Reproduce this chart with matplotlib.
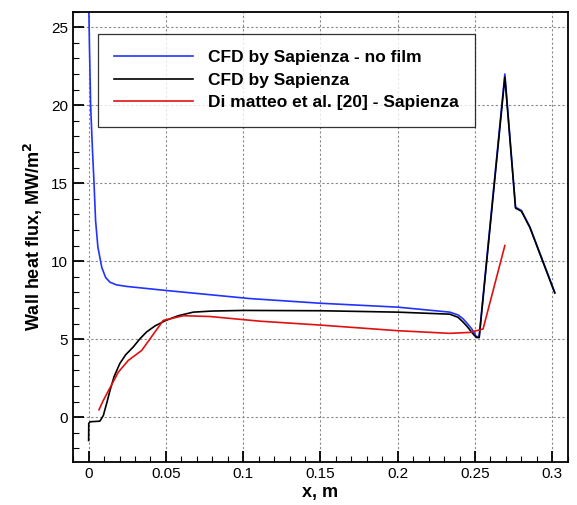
import matplotlib
matplotlib.use('Agg')
import matplotlib.pyplot as plt
from matplotlib.ticker import MultipleLocator

plt.rcParams['font.family'] = ['Liberation Sans', 'DejaVu Sans']

# CFD by Sapienza - no film
x_nofilm = [0.0, 0.0005, 0.0013, 0.0025, 0.0035, 0.0045, 0.006, 0.0085, 0.011, 0.0138,
            0.018, 0.0245, 0.05, 0.1044, 0.15, 0.2, 0.2337, 0.239, 0.2423, 0.245,
            0.2477, 0.2495, 0.251, 0.2527, 0.2693, 0.2762, 0.280, 0.2855, 0.3016]
y_nofilm = [27.0, 24.0, 20.0, 17.1, 15.0, 12.6, 10.9, 9.6, 8.95, 8.65,
            8.48, 8.38, 8.12, 7.6, 7.3, 7.05, 6.73, 6.55, 6.3, 6.0,
            5.68, 5.4, 5.13, 5.2, 22.0, 13.46, 13.25, 12.2, 8.0]

# CFD by Sapienza
x_film = [0.0, 0.0001, 0.001, 0.0073, 0.0095, 0.012, 0.0138, 0.0165, 0.0202, 0.024,
          0.0289, 0.033, 0.0375, 0.043, 0.05, 0.058, 0.0677, 0.08, 0.1, 0.15,
          0.2, 0.2337, 0.239, 0.2423, 0.245, 0.2477, 0.2495, 0.251, 0.2527, 0.2693,
          0.2762, 0.280, 0.2855, 0.3016]
y_film = [-1.5, -0.4, -0.3, -0.26, 0.1, 1.0, 1.7, 2.6, 3.44, 4.0,
          4.5, 5.0, 5.46, 5.85, 6.2, 6.5, 6.73, 6.8, 6.84, 6.82,
          6.73, 6.6, 6.4, 6.09, 5.8, 5.46, 5.25, 5.1, 5.1, 21.8,
          13.4, 13.2, 12.15, 7.95]

# Di matteo et al. [20] - Sapienza
x_dm = [0.0067, 0.0095, 0.0192, 0.0256, 0.0343, 0.0483, 0.0612, 0.0785, 0.1108,
        0.15, 0.2, 0.2337, 0.2466, 0.2552, 0.2693]
y_dm = [0.47, 1.07, 2.88, 3.63, 4.27, 6.2, 6.5, 6.45, 6.15,
        5.9, 5.54, 5.37, 5.43, 5.65, 11.0]

fig = plt.figure(figsize=(5.77, 5.05), dpi=100)
ax = fig.add_axes([0.126, 0.0845, 0.858, 0.8925])

ax.plot(x_nofilm, y_nofilm, color='#2233ff', lw=1.2, label='CFD by Sapienza - no film')
ax.plot(x_film, y_film, color='black', lw=1.2, label='CFD by Sapienza')
ax.plot(x_dm, y_dm, color='#e01010', lw=1.2, label='Di matteo et al. [20] - Sapienza')

ax.set_xlim(-0.0103, 0.31)
ax.set_ylim(-2.9, 26)
ax.xaxis.set_minor_locator(MultipleLocator(0.01))
ax.yaxis.set_major_locator(MultipleLocator(5))
ax.yaxis.set_minor_locator(MultipleLocator(1))
ax.set_xticks([0, 0.05, 0.1, 0.15, 0.2, 0.25, 0.3])
ax.set_xticklabels(['0', '0.05', '0.1', '0.15', '0.2', '0.25', '0.3'])
ax.tick_params(which='major', direction='in', length=8, width=1.3, labelsize=11)
ax.tick_params(which='minor', direction='in', length=4, width=0.8)
ax.grid(True, which='major', linestyle=(0, (2, 2)), color='#888888', lw=0.8)
for s in ax.spines.values():
    s.set_linewidth(1.3)

ax.set_xlabel('x, m', fontsize=13, fontweight='bold', labelpad=2)
ax.set_ylabel('Wall heat flux, MW/m$^\\mathbf{2}$', fontsize=13, fontweight='bold', labelpad=4)

leg = ax.legend(loc='upper left', bbox_to_anchor=(0.051, 0.951),
                prop={'weight': 'bold', 'size': 12.5}, frameon=True, fancybox=False,
                edgecolor='black', handlelength=4.5, borderpad=0.95, labelspacing=0.42,
                handletextpad=0.9, borderaxespad=0)
leg.get_frame().set_linewidth(0.9)

fig.savefig('out.png', dpi=100)
